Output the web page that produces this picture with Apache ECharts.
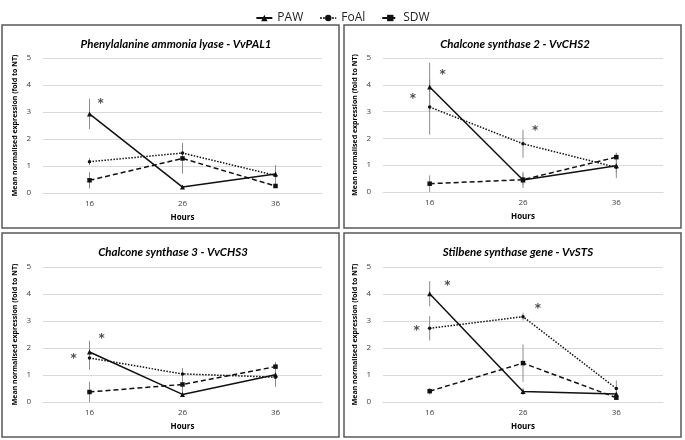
<!DOCTYPE html>
<html><head><meta charset="utf-8">
<script src="https://cdn.jsdelivr.net/npm/echarts@6/dist/echarts.min.js"></script>
<style>html,body{margin:0;padding:0;background:#fff}#c{width:685px;height:440px}</style>
</head><body><div id="c"></div>
<script>
var hours = ['16', '26', '36'];
var seriesNames = ['PAW', 'FoAl', 'SDW'];
var panelTitles = ['Phenylalanine ammonia lyase - VvPAL1', 'Chalcone synthase 2 - VvCHS2', 'Chalcone synthase 3 - VvCHS3', 'Stilbene synthase gene - VvSTS'];
var yTicks = [0, 1, 2, 3, 4, 5];

// means
var PAL1_PAW = [2.93, 0.22, 0.70];
var PAL1_FoAl = [1.16, 1.48, 0.65];
var PAL1_SDW = [0.47, 1.28, 0.26];
var CHS2_PAW = [3.92, 0.45, 0.98];
var CHS2_FoAl = [3.17, 1.80, 0.92];
var CHS2_SDW = [0.31, 0.46, 1.30];
var CHS3_PAW = [1.85, 0.28, 1.01];
var CHS3_FoAl = [1.63, 1.04, 0.92];
var CHS3_SDW = [0.37, 0.65, 1.31];
var STS_PAW = [4.01, 0.39, 0.30];
var STS_FoAl = [2.73, 3.16, 0.50];
var STS_SDW = [0.40, 1.44, 0.16];

// error (half-width)
var PAL1_PAW_err = [0.56, 0.04, 0.33];
var PAL1_FoAl_err = [0.13, 0.37, 0.38];
var PAL1_SDW_err = [0.30, 0.56, 0.05];
var CHS2_PAW_err = [0.90, 0.30, 0.46];
var CHS2_FoAl_err = [1.03, 0.52, 0.20];
var CHS2_SDW_err = [0.31, 0.20, 0.17];
var CHS3_PAW_err = [0.42, 0.05, 0.45];
var CHS3_FoAl_err = [0.43, 0.22, 0.20];
var CHS3_SDW_err = [0.38, 0.35, 0.17];
var STS_PAW_err = [0.47, 0.13, 0.05];
var STS_FoAl_err = [0.45, 0.14, 0.30];
var STS_SDW_err = [0.12, 0.69, 0.05];

// significance asterisks [hour, value]
var PAL1_star = [[17.2, 3.4]];
var CHS2_star = [[14.2, 3.58], [17.4, 4.5], [27.3, 2.4]];
var CHS3_star = [[14.3, 1.7], [17.3, 2.45]];
var STS_star = [[14.6, 2.75], [17.9, 4.43], [27.6, 3.57]];

var panels = [
  {m: [PAL1_PAW, PAL1_FoAl, PAL1_SDW], e: [PAL1_PAW_err, PAL1_FoAl_err, PAL1_SDW_err], s: PAL1_star},
  {m: [CHS2_PAW, CHS2_FoAl, CHS2_SDW], e: [CHS2_PAW_err, CHS2_FoAl_err, CHS2_SDW_err], s: CHS2_star},
  {m: [CHS3_PAW, CHS3_FoAl, CHS3_SDW], e: [CHS3_PAW_err, CHS3_FoAl_err, CHS3_SDW_err], s: CHS3_star},
  {m: [STS_PAW, STS_FoAl, STS_SDW], e: [STS_PAW_err, STS_FoAl_err, STS_SDW_err], s: STS_star}
];

// layout
var grids = [
  {left: 43, top: 58, width: 279, height: 135},
  {left: 383, top: 58, width: 280, height: 134},
  {left: 43, top: 267, width: 279, height: 135},
  {left: 383, top: 267, width: 280, height: 135}
];
var boxes = [[2, 25, 337, 203], [344, 25, 337, 203], [2, 233, 337, 204], [344, 233, 337, 204]];
var titleCenters = [[171, 33], [510, 33], [168, 241], [513, 241]];

var symbols = ['triangle', 'circle', 'rect'];
var symSizes = [5, 3.5, 4.5];
var lineTypes = ['solid', [1.5, 1.5], [5, 3]];

var option = {
  backgroundColor: '#fff',
  animation: false,
  legend: {
    top: 7, left: 'center', itemWidth: 16, itemHeight: 8, itemGap: 16,
    textStyle: {fontFamily: 'Open Sans', fontSize: 12, color: '#222'},
    data: seriesNames
  },
  title: [],
  grid: [], xAxis: [], yAxis: [], series: [],
  graphic: []
};

boxes.forEach(function (b) {
  option.graphic.push({type: 'rect', shape: {x: b[0], y: b[1], width: b[2], height: b[3]},
    style: {fill: 'none', stroke: '#595959', lineWidth: 1.5}, silent: true, z: -1});
});

panels.forEach(function (p, i) {
  option.grid.push(grids[i]);
  option.title.push({
    text: panelTitles[i], left: titleCenters[i][0], top: titleCenters[i][1], textAlign: 'center',
    textStyle: {fontFamily: 'Lato', fontStyle: 'italic', fontWeight: 'bold', fontSize: 11.5, color: '#000'}
  });
  option.xAxis.push({
    type: 'category', gridIndex: i, data: hours, boundaryGap: true,
    name: 'Hours', nameLocation: 'middle', nameGap: 21,
    nameTextStyle: {fontFamily: 'Open Sans', fontWeight: 'bold', fontSize: 8, color: '#000'},
    axisLine: {lineStyle: {color: '#d9d9d9'}}, axisTick: {show: false},
    axisLabel: {fontFamily: 'Open Sans', fontSize: 8, color: '#404040', margin: 7}
  });
  option.xAxis.push({
    type: 'value', gridIndex: i, min: 11, max: 41, show: false
  });
  option.yAxis.push({
    type: 'value', gridIndex: i, min: 0, max: 5, interval: 1,
    name: 'Mean normalised expression (fold to NT)', nameLocation: 'middle', nameGap: 25,
    nameTextStyle: {fontFamily: 'Open Sans', fontWeight: 'bold', fontSize: 7, color: '#000'},
    axisLine: {show: false}, axisTick: {show: false},
    axisLabel: {fontFamily: 'Open Sans', fontSize: 8, color: '#404040', margin: 12},
    splitLine: {lineStyle: {color: '#d9d9d9'}}
  });
  // error bars
  for (var k = 0; k < 3; k++) {
    (function (k) {
      var d = p.m[k].map(function (v, j) { return [j, v - p.e[k][j], v + p.e[k][j]]; });
      option.series.push({
        type: 'custom', xAxisIndex: 2 * i, yAxisIndex: i, data: d, z: 1, silent: true,
        renderItem: function (params, api) {
          var lo = api.coord([api.value(0), Math.max(0, api.value(1))]);
          var hi = api.coord([api.value(0), api.value(2)]);
          return {type: 'line', shape: {x1: lo[0], y1: lo[1], x2: hi[0], y2: hi[1]},
            style: {stroke: '#8c8c8c', lineWidth: 1}};
        }
      });
    })(k);
  }
  for (var k2 = 0; k2 < 3; k2++) {
    option.series.push({
      type: 'line', name: seriesNames[k2], xAxisIndex: 2 * i, yAxisIndex: i, data: p.m[k2], z: 3,
      symbol: symbols[k2], symbolSize: symSizes[k2], showAllSymbol: true,
      lineStyle: {color: '#111', width: 1.5, type: lineTypes[k2]},
      itemStyle: {color: '#111', borderWidth: 0}
    });
  }
  option.series.push({
    type: 'scatter', xAxisIndex: 2 * i + 1, yAxisIndex: i, data: p.s, symbolSize: 1,
    itemStyle: {color: 'rgba(0,0,0,0)'}, silent: true, z: 4,
    label: {show: true, formatter: '*', position: 'inside', offset: [0, 3],
      fontFamily: 'DejaVu Sans', fontSize: 12, fontWeight: 'bold', color: '#222'}
  });
});

var chart = echarts.init(document.getElementById('c'), null, {renderer: 'canvas'});
chart.setOption(option);
</script></body></html>
